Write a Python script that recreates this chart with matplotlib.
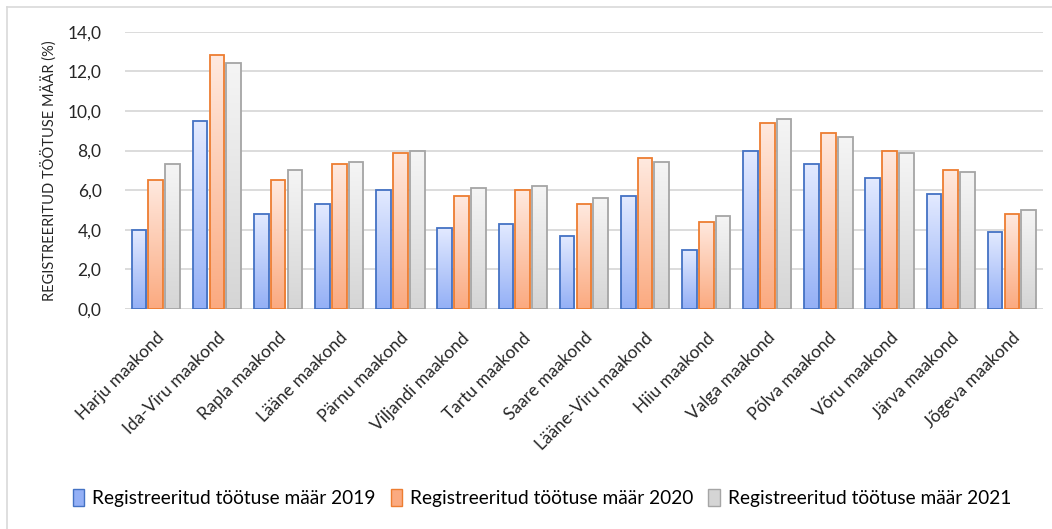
import matplotlib.pyplot as plt
import numpy as np
from matplotlib.patches import Patch
from matplotlib.lines import Line2D
from matplotlib.colors import LinearSegmentedColormap

plt.rcParams['font.family'] = ['Lato', 'DejaVu Sans']

maakonnad = ["Harju maakond", "Ida-Viru maakond", "Rapla maakond", "Lääne maakond",
             "Pärnu maakond", "Viljandi maakond", "Tartu maakond", "Saare maakond",
             "Lääne-Viru maakond", "Hiiu maakond", "Valga maakond", "Põlva maakond",
             "Võru maakond", "Järva maakond", "Jõgeva maakond"]
maar_2019 = [4.0, 9.5, 4.8, 5.3, 6.0, 4.1, 4.3, 3.7, 5.7, 3.0, 8.0, 7.3, 6.6, 5.8, 3.9]
maar_2020 = [6.5, 12.8, 6.5, 7.3, 7.9, 5.7, 6.0, 5.3, 7.6, 4.4, 9.4, 8.9, 8.0, 7.0, 4.8]
maar_2021 = [7.3, 12.4, 7.0, 7.4, 8.0, 6.1, 6.2, 5.6, 7.4, 4.7, 9.6, 8.7, 7.9, 6.9, 5.0]
aastad = ["2019", "2020", "2021"]

# (serv, ülemine, alumine) värvid
stiilid = [("#4472c4", "#e3eaff", "#94b0f6"),
           ("#ed7d31", "#ffe9df", "#fbaa80"),
           ("#a5a5a5", "#f5f5f5", "#d5d5d5")]

fig = plt.figure(figsize=(10.52, 5.29), dpi=100)
ax = fig.add_axes([0.119, 0.416, 0.872, 0.524])

x = np.arange(len(maakonnad))
w = 0.24
nihe = 0.275
grad = np.linspace(0, 1, 100).reshape(-1, 1)

for i, (vals, (serv, yl, al)) in enumerate(zip([maar_2019, maar_2020, maar_2021], stiilid)):
    bars = ax.bar(x + (i - 1) * nihe, vals, w, facecolor="none", edgecolor=serv,
                  linewidth=1.3, zorder=3)
    cmap = LinearSegmentedColormap.from_list("g", [al, yl])
    for b in bars:
        x0 = b.get_x()
        im = ax.imshow(grad, cmap=cmap, origin="lower", aspect="auto",
                       extent=[x0, x0 + b.get_width(), 0, b.get_height()], zorder=2)
        im.set_clip_path(b)

ax.set_xlim(-0.5, len(maakonnad) - 0.5)
ax.set_ylim(0, 14)
ax.set_yticks(np.arange(0, 14.1, 2))
ax.set_yticklabels([f"{v:.1f}".replace(".", ",") for v in np.arange(0, 14.1, 2)])
ax.grid(axis="y", color="#d9d9d9", linewidth=1.3, zorder=0)
for s in ax.spines.values():
    s.set_visible(False)
ax.axhline(0, color="#d9d9d9", linewidth=1.3, zorder=1)
ax.tick_params(length=0, labelsize=12.5, labelcolor="#262626")
ax.tick_params(axis="y", pad=17)
ax.set_xticks(x)
ax.set_xticklabels(maakonnad, rotation=45, ha="right", rotation_mode="anchor")
ax.tick_params(axis="x", pad=15)
ax.set_ylabel("REGISTREERITUD TÖÖTUSE MÄÄR (%)", fontsize=10.5, color="#262626", labelpad=8)

handles = [Patch(facecolor=st[2], edgecolor=st[0], linewidth=1) for st in stiilid]
fig.legend(handles, [f"Registreeritud töötuse määr {a}" for a in aastad],
           loc="center", bbox_to_anchor=(0.515, 0.058), ncol=3, frameon=False,
           fontsize=13.8, handlelength=0.6, handleheight=1.0, handletextpad=0.4,
           columnspacing=0.8)

# diagrammi ääris (ülal ja vasakul)
fig.add_artist(Line2D([0.007, 1.0], [0.986, 0.986], color="#d9d9d9", linewidth=1.2))
fig.add_artist(Line2D([0.007, 0.007], [0.0, 0.986], color="#d9d9d9", linewidth=1.2))

fig.savefig("out.png", dpi=100)
